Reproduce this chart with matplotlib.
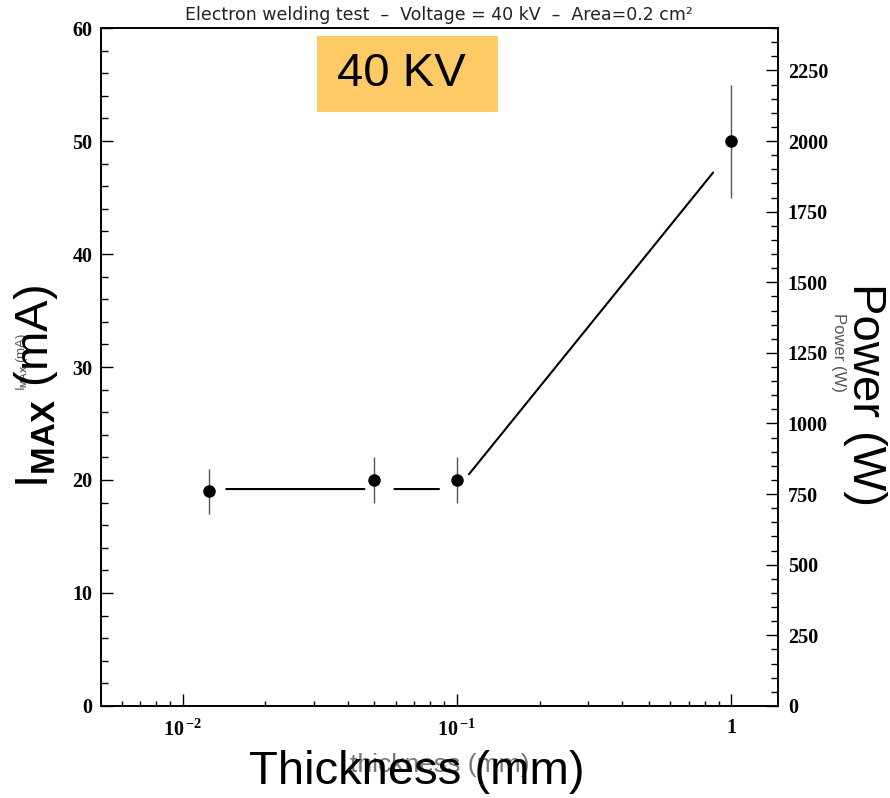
import matplotlib
matplotlib.use("Agg")
import matplotlib.pyplot as plt
from matplotlib import font_manager
from matplotlib.patches import Rectangle
from matplotlib.ticker import FixedLocator, MultipleLocator, NullFormatter, FixedFormatter

# measured points
thickness = [0.0125, 0.05, 0.1, 1.0]      # mm
i_max = [19, 20, 20, 50]                  # mA
i_err = [2, 2, 2, 5]

# model curve (flat up to 0.1 mm, then rising)
curve_x = [0.0125, 0.05, 0.1, 1.0]
curve_y = [19.2, 19.2, 19.2, 49.2]

voltage_kv = 40
x_major = [0.01, 0.1, 1.0]
x_major_labels = [r"$\mathrm{10}^{\,\mathrm{-2}}$", r"$\mathrm{10}^{\,\mathrm{-1}}$", r"$\mathrm{1}$"]

plt.rcParams["mathtext.fontset"] = "custom"
plt.rcParams["mathtext.rm"] = "Liberation Serif:bold"
plt.rcParams["mathtext.sf"] = "Liberation Sans:bold"

# use the narrow face for the big axis titles if it is there
names = {f.name for f in font_manager.fontManager.ttflist}
if "Liberation Sans Narrow" in names:
    big_font, big_size = "Liberation Sans Narrow", 40
else:
    big_font, big_size = "Liberation Sans", 34

tick_font = dict(family="Liberation Serif", weight="bold", size=14.5)

fig = plt.figure(figsize=(8.9, 7.98), dpi=100)
ax = fig.add_axes([0.1135, 0.1153, 0.7607, 0.8496])

ax.errorbar(thickness, i_max, yerr=i_err, fmt="none", ecolor="#555555", elinewidth=1.0, zorder=2)
ax.plot(thickness, i_max, "o", color="black", markersize=8, zorder=3)

# curve segments, left open around the markers
px2pt = 72.0 / fig.dpi
gaps = [(17, 10), (20, 18), (19, 29)]
for k in range(len(curve_x) - 1):
    ax.annotate("", xy=(curve_x[k + 1], curve_y[k + 1]), xytext=(curve_x[k], curve_y[k]),
                arrowprops=dict(arrowstyle="-", color="black", lw=1.5,
                                shrinkA=gaps[k][0] * px2pt, shrinkB=gaps[k][1] * px2pt))

ax.set_xscale("log")
ax.set_xlim(0.00504, 1.48)
ax.set_ylim(0, 60)

ax.xaxis.set_major_locator(FixedLocator(x_major))
ax.xaxis.set_major_formatter(FixedFormatter(x_major_labels))
ax.xaxis.set_minor_locator(FixedLocator([m * 10.0 ** e for e in (-3, -2, -1) for m in range(2, 10)]))
ax.xaxis.set_minor_formatter(NullFormatter())
ax.yaxis.set_major_locator(MultipleLocator(10))
ax.yaxis.set_minor_locator(MultipleLocator(2))

ax.tick_params(axis="x", which="major", direction="in", length=8.6, width=1, pad=9)
ax.tick_params(axis="x", which="minor", direction="in", length=3.6, width=1)
ax.tick_params(axis="y", which="major", direction="in", length=8.6, width=1, pad=6)
ax.tick_params(axis="y", which="minor", direction="in", length=5, width=1)
for lab in ax.get_xticklabels() + ax.get_yticklabels():
    lab.set_fontproperties(font_manager.FontProperties(**tick_font))

for s in ax.spines.values():
    s.set_linewidth(1.2)

# power axis: P = I * V
ax2 = ax.twinx()
ax2.set_ylim(0, 60 * voltage_kv)
ax2.yaxis.set_major_locator(MultipleLocator(250))
ax2.yaxis.set_minor_locator(MultipleLocator(50))
ax2.tick_params(axis="y", which="major", direction="in", length=8.6, width=1, pad=7)
ax2.tick_params(axis="y", which="minor", direction="in", length=5, width=1)
for lab in ax2.get_yticklabels():
    lab.set_fontproperties(font_manager.FontProperties(**tick_font))
for s in ax2.spines.values():
    s.set_linewidth(1.2)

# title
fig.text(0.493, 0.981, "Electron welding test  \u2013  Voltage = 40 kV  \u2013  Area=0.2 cm\u00b2",
         ha="center", va="center", fontsize=12.5, family="DejaVu Sans", color="#222222")

# small default axis titles
fig.text(0.494, 0.041, "thickness (mm)", ha="center", va="center", fontsize=19,
         family="Liberation Sans", color="#777777")
fig.text(0.025, 0.546, r"I$_{\mathsf{MAX}}$ (mA)", ha="center", va="center", rotation=90,
         fontsize=9.5, family="Liberation Sans", color="#555555")
fig.text(0.942, 0.558, "Power (W)", ha="center", va="center", rotation=-90, fontsize=12,
         family="Liberation Sans", color="#555555")

# large axis titles
fig.text(0.468, 0.032, "Thickness (mm)", ha="center", va="center", fontsize=big_size,
         family=big_font, color="black")
fig.text(0.040, 0.516, r"I$_{\mathsf{MAX}}$ (mA)", ha="center", va="center", rotation=90,
         fontsize=big_size, family=big_font, color="black")
fig.text(0.972, 0.506, "Power (W)", ha="center", va="center", rotation=-90,
         fontsize=big_size, family=big_font, color="black")

# voltage tag
fig.patches.append(Rectangle((0.356, 0.860), 0.203, 0.095, transform=fig.transFigure,
                             facecolor="#FECA66", edgecolor="none", zorder=5))
fig.text(0.4515, 0.907, f"{voltage_kv} KV", ha="center", va="center", fontsize=34,
         family="Liberation Sans", color="black", zorder=6)

fig.savefig("out.png", dpi=100)
